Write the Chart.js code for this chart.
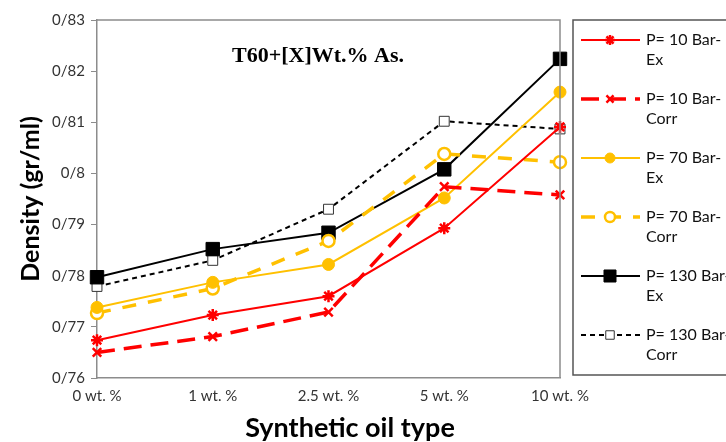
<!DOCTYPE html>
<html lang="en">
<head>
    <meta charset="UTF-8">
    <title>T60 density</title>
    <script src="https://cdn.jsdelivr.net/npm/chart.js"></script>
    <style>
        html, body { margin: 0; padding: 0; background: #fff; }
        #box { width: 726px; height: 442px; }
    </style>
</head>
<body>
<div id="box"><canvas id="grafico"></canvas></div>

<script>
    // categorias e series
    const categorias = ['0 wt. %', '1 wt. %', '2.5 wt. %', '5 wt. %', '10 wt. %'];
    const p10Ex = [0.7674, 0.7723, 0.7760, 0.7893, 0.8091];
    const p10Corr = [0.7650, 0.7681, 0.7729, 0.7974, 0.7958];
    const p70Ex = [0.7738, 0.7787, 0.7822, 0.7952, 0.8159];
    const p70Corr = [0.7727, 0.7775, 0.7868, 0.8038, 0.8022];
    const p130Ex = [0.7797, 0.7852, 0.7884, 0.8008, 0.8224];
    const p130Corr = [0.7779, 0.7830, 0.7930, 0.8102, 0.8087];
    const yTicks = [0.76, 0.77, 0.78, 0.79, 0.80, 0.81, 0.82, 0.83];

    const labelFont = 'Lato, "Open Sans", sans-serif';

    // titulo dentro da area, titulo do eixo x e borda superior/direita
    const extras = {
        id: 'extras',
        afterDraw(chart) {
            const c = chart.ctx;
            const a = chart.chartArea;
            c.save();
            c.strokeStyle = '#8c8c8c';
            c.lineWidth = 1.5;
            c.beginPath();
            c.moveTo(a.left, a.top);
            c.lineTo(a.right, a.top);
            c.lineTo(a.right, a.bottom);
            c.stroke();

            c.fillStyle = '#000';
            c.font = 'bold 22px "Liberation Serif", "DejaVu Serif", serif';
            c.textAlign = 'center';
            c.textBaseline = 'middle';
            c.fillText('T60+[X]Wt.% As.', 318, 56);

            c.font = 'bold 27px ' + labelFont;
            c.fillText('Synthetic oil type', 350, 428);
            c.restore();
        }
    };

    // legenda desenhada a direita, com linha + marcador e texto em duas linhas
    const legenda = {
        id: 'legenda',
        afterDraw(chart) {
            const c = chart.ctx;
            c.save();
            c.strokeStyle = '#555';
            c.lineWidth = 1.5;
            c.strokeRect(573, 20, 200, 355);
            chart.data.datasets.forEach(function (ds, i) {
                const y = 40 + i * 59;
                c.strokeStyle = ds.borderColor;
                c.lineWidth = ds.borderWidth;
                c.setLineDash(ds.borderDash || []);
                c.beginPath();
                c.moveTo(581, y);
                c.lineTo(640, y);
                c.stroke();
                c.setLineDash([]);
                c.fillStyle = ds.pointBackgroundColor;
                c.strokeStyle = ds.pointBorderColor;
                c.lineWidth = ds.pointBorderWidth || 1;
                Chart.helpers.drawPoint(c, {
                    pointStyle: ds.pointStyle,
                    radius: ds.pointRadius - 1,
                    borderWidth: ds.pointBorderWidth || 1
                }, 610, y);
                c.fillStyle = '#111';
                c.font = '16px ' + labelFont;
                c.textAlign = 'left';
                c.textBaseline = 'middle';
                const partes = ds.label.split('\n');
                c.fillText(partes[0], 646, y);
                c.fillText(partes[1], 646, y + 20);
            });
            c.restore();
        }
    };

    const ctx = document.getElementById('grafico');
    new Chart(ctx, {
        type: 'line',
        data: {
            labels: categorias,
            datasets: [{
                label: 'P= 10 Bar-\nEx',
                data: p10Ex,
                borderColor: '#ff0000',
                borderWidth: 2,
                pointStyle: 'star',
                pointRadius: 6,
                pointBorderWidth: 2.5,
                pointBackgroundColor: '#ff0000',
                pointBorderColor: '#ff0000'
            }, {
                label: 'P= 10 Bar-\nCorr',
                data: p10Corr,
                borderColor: '#ff0000',
                borderWidth: 3.5,
                borderDash: [18, 9],
                pointStyle: 'crossRot',
                pointRadius: 6,
                pointBorderWidth: 2.5,
                pointBackgroundColor: '#ff0000',
                pointBorderColor: '#ff0000'
            }, {
                label: 'P= 70 Bar-\nEx',
                data: p70Ex,
                borderColor: '#ffc000',
                borderWidth: 2,
                pointStyle: 'circle',
                pointRadius: 6,
                pointBorderWidth: 1,
                pointBackgroundColor: '#ffc000',
                pointBorderColor: '#ffc000'
            }, {
                label: 'P= 70 Bar-\nCorr',
                data: p70Corr,
                borderColor: '#ffc000',
                borderWidth: 3.5,
                borderDash: [14, 12],
                pointStyle: 'circle',
                pointRadius: 6,
                pointBorderWidth: 2.5,
                pointBackgroundColor: '#ffffff',
                pointBorderColor: '#ffc000'
            }, {
                label: 'P= 130 Bar-\nEx',
                data: p130Ex,
                borderColor: '#000000',
                borderWidth: 2,
                pointStyle: 'rect',
                pointRadius: 9.5,
                pointBorderWidth: 1,
                pointBackgroundColor: '#000000',
                pointBorderColor: '#000000'
            }, {
                label: 'P= 130 Bar-\nCorr',
                data: p130Corr,
                borderColor: '#000000',
                borderWidth: 2,
                borderDash: [5, 4],
                pointStyle: 'rect',
                pointRadius: 7,
                pointBorderWidth: 1,
                pointBackgroundColor: '#ffffff',
                pointBorderColor: '#333333'
            }]
        },
        options: {
            responsive: true,
            maintainAspectRatio: false,
            animation: false,
            clip: false,
            layout: { padding: { top: 20, right: 166, bottom: 0, left: 16 } },
            plugins: {
                legend: { display: false },
                tooltip: { enabled: false }
            },
            elements: { line: { tension: 0 } },
            scales: {
                x: {
                    offset: false,
                    grid: { display: true, drawOnChartArea: false, drawTicks: false },
                    border: { color: '#8c8c8c', width: 1.5 },
                    ticks: {
                        color: '#333',
                        font: { family: labelFont, size: 15 },
                        padding: 9,
                        maxRotation: 0,
                        autoSkip: false
                    },
                    afterFit: function (scale) { scale.height = 64; }
                },
                y: {
                    min: 0.76,
                    max: 0.83,
                    afterBuildTicks: function (scale) {
                        scale.ticks = yTicks.map(function (v) { return { value: v }; });
                    },
                    grid: { display: true, drawOnChartArea: false, drawTicks: true, tickLength: 6, color: '#8c8c8c' },
                    border: { color: '#8c8c8c', width: 1.5 },
                    ticks: {
                        color: '#333',
                        font: { family: labelFont, size: 15 },
                        padding: 6,
                        callback: function (v) {
                            return String(Number(v.toFixed(2))).replace('.', '/');
                        }
                    },
                    title: {
                        display: true,
                        text: 'Density (gr/ml)',
                        color: '#000',
                        font: { family: labelFont, size: 25, weight: 'bold' },
                        padding: { top: 0, bottom: 2 }
                    },
                    afterFit: function (scale) { scale.width = 81; }
                }
            }
        },
        plugins: [extras, legenda]
    });
</script>
</body>
</html>
